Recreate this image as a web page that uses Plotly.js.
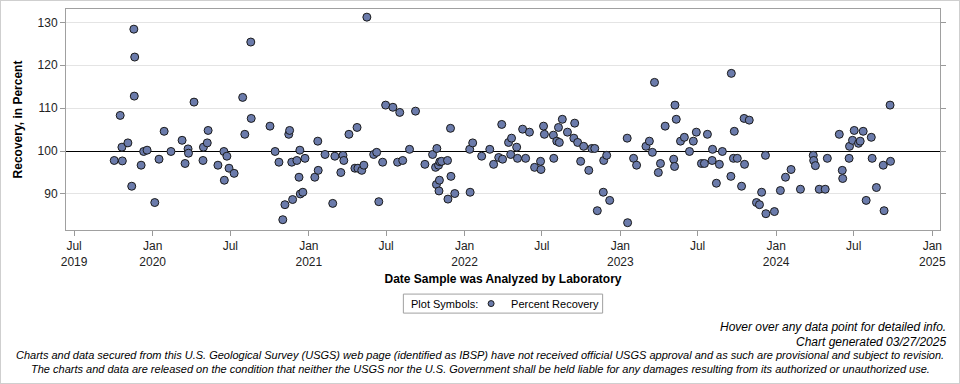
<!DOCTYPE html>
<html>
<head>
<meta charset="utf-8">
<script src="https://cdn.plot.ly/plotly-3.0.1.min.js"></script>
<style>
html,body{margin:0;padding:0;background:#fff;}
#wrap{position:relative;width:960px;height:384px;}
#chart{position:absolute;left:0;top:0;width:960px;height:384px;}
#frame{position:absolute;left:0;top:0;width:960px;height:384px;box-sizing:border-box;border:1px solid #cfcfcf;pointer-events:none;}
</style>
</head>
<body>
<div id="wrap"><div id="chart"></div><div id="frame"></div></div>
<script>
const sampleDates = [
"2019-10-03","2019-10-17","2019-10-21","2019-10-22","2019-11-04","2019-11-13","2019-11-18","2019-11-20","2019-11-19","2019-12-05",
"2019-12-11","2019-12-19","2020-01-06","2020-01-16","2020-01-28","2020-02-13","2020-03-10","2020-03-17","2020-03-24","2020-03-25",
"2020-04-07","2020-04-28","2020-04-29","2020-05-08","2020-05-10","2020-06-02","2020-06-16","2020-06-17","2020-06-23","2020-06-28",
"2020-07-10","2020-07-30","2020-08-04","2020-08-18","2020-08-19","2020-10-02","2020-10-14","2020-10-23","2020-11-01","2020-11-06",
"2020-11-15","2020-11-17","2020-11-22","2020-11-24","2020-12-04","2020-12-09","2020-12-11","2020-12-12","2020-12-18","2020-12-23",
"2021-01-15","2021-01-22","2021-01-23","2021-02-08","2021-02-26","2021-03-03","2021-03-17","2021-03-22","2021-03-24","2021-04-05",
"2021-04-19","2021-04-24","2021-04-26","2021-05-05","2021-05-10","2021-05-17","2021-06-02","2021-06-09","2021-06-14","2021-06-23",
"2021-06-30","2021-07-17","2021-07-28","2021-08-02","2021-08-09","2021-08-25","2021-09-08","2021-09-30","2021-10-18","2021-10-25",
"2021-10-28","2021-10-27","2021-11-01","2021-11-02","2021-11-03","2021-11-04","2021-11-08","2021-11-22","2021-11-23","2021-11-29",
"2021-11-30","2021-12-09","2022-01-13","2022-01-14","2022-01-20","2022-02-10","2022-03-01","2022-03-10","2022-03-22","2022-03-29",
"2022-03-31","2022-04-14","2022-04-19","2022-04-21","2022-05-03","2022-05-05","2022-05-17","2022-05-24","2022-06-02","2022-06-14",
"2022-06-28","2022-06-29","2022-07-05","2022-07-07","2022-07-29","2022-07-28","2022-08-05","2022-08-09","2022-08-11","2022-08-18",
"2022-08-30","2022-09-14","2022-09-16","2022-09-23","2022-09-30","2022-10-07","2022-10-19","2022-10-26","2022-11-02","2022-11-08",
"2022-11-23","2022-11-22","2022-11-30","2022-12-07","2023-01-18","2023-01-17","2023-02-01","2023-02-08","2023-03-02","2023-03-10",
"2023-03-17","2023-03-22","2023-03-31","2023-04-05","2023-04-16","2023-05-06","2023-05-08","2023-05-09","2023-05-12","2023-05-22",
"2023-05-31","2023-06-12","2023-06-21","2023-06-28","2023-07-10","2023-07-17","2023-07-24","2023-08-05","2023-08-04","2023-08-14",
"2023-08-21","2023-08-28","2023-09-18","2023-09-17","2023-09-23","2023-09-25","2023-10-02","2023-10-12","2023-10-19","2023-10-18",
"2023-10-30","2023-11-16","2023-11-23","2023-11-28","2023-12-07","2023-12-08","2023-12-28","2024-01-11","2024-01-23","2024-02-05",
"2024-02-27","2024-03-28","2024-03-29","2024-04-02","2024-04-11","2024-04-25","2024-04-30","2024-05-28","2024-06-04","2024-06-05",
"2024-06-21","2024-06-20","2024-06-28","2024-07-02","2024-07-12","2024-07-16","2024-07-23","2024-07-30","2024-08-11","2024-08-13",
"2024-08-23","2024-09-08","2024-09-10","2024-09-24","2024-09-25"
];
const percentRecovery = [
97.8,108.3,100.9,97.7,101.9,91.8,128.4,121.9,112.8,96.7,
99.9,100.2,88.0,98.1,104.6,99.9,102.5,97.1,100.5,99.5,
111.4,97.8,100.9,101.9,104.8,96.7,99.9,93.2,98.8,96.0,
94.8,112.5,103.9,125.4,107.6,105.8,99.9,97.4,84.0,87.5,
103.9,104.8,97.4,88.7,97.8,93.9,100.2,90.0,90.4,98.3,
93.9,102.3,95.5,99.2,87.8,98.8,95.0,99.0,97.8,103.9,
96.0,105.5,96.0,95.5,96.7,131.2,99.2,99.7,88.2,97.4,
110.7,110.2,97.4,109.0,97.8,100.4,109.3,96.9,99.2,96.2,
100.6,92.2,96.7,90.7,93.2,97.5,97.6,97.8,88.8,105.3,
94.1,90.1,100.4,90.4,101.9,98.8,100.4,96.9,98.5,106.2,
98.1,102.0,99.2,103.0,100.9,98.3,105.1,98.3,104.4,96.2,
97.6,95.7,105.8,103.9,98.3,103.7,102.3,105.5,102.0,107.4,
104.4,103.0,106.5,102.0,97.6,101.1,95.5,100.6,100.6,86.1,
97.8,90.4,99.0,88.5,83.3,103.0,98.3,96.7,101.1,102.3,
99.7,116.0,95.0,97.1,105.8,98.1,96.4,110.7,107.4,102.3,
103.2,99.9,102.3,104.4,97.1,97.1,103.9,100.4,97.8,92.5,
96.9,99.9,118.1,94.1,98.3,104.6,98.3,91.8,96.9,107.6,
107.2,88.0,87.5,90.4,99.0,85.4,85.9,90.8,93.9,95.7,
91.1,99.0,97.8,96.6,91.1,91.1,98.3,103.9,95.5,93.6,
101.1,98.3,102.5,104.8,101.8,102.3,104.6,88.5,103.2,98.3,
91.5,96.7,86.1,110.7,97.6
];
const xTickVals = ["2019-07-01","2020-01-01","2020-07-01","2021-01-01","2021-07-01","2022-01-01","2022-07-01","2023-01-01","2023-07-01","2024-01-01","2024-07-01","2025-01-01"];
const xTickText = ["Jul<br>2019","Jan<br>2020","Jul","Jan<br>2021","Jul","Jan<br>2022","Jul","Jan<br>2023","Jul","Jan<br>2024","Jul","Jan<br>2025"];
const yTickVals = [90,100,110,120,130];
const referenceLevel = 100;
const yRange = [81.6, 133.1];

const FONT = "Liberation Sans, Arial, sans-serif";
const FILL = "#6b7bab";

const trace = {
  type: "scatter",
  mode: "markers",
  name: "Percent Recovery",
  showlegend: false,
  x: sampleDates,
  y: percentRecovery,
  marker: {size: 8, color: FILL, line: {color: "#1a1a1a", width: 1}},
  hovertemplate: "%{x|%m/%d/%Y}<br>%{y:.1f}%<extra></extra>"
};
// legend-only entry with the smaller symbol shown in the reference legend
const legendEntry = {
  type: "scatter", mode: "markers", name: "Percent Recovery",
  x: [null], y: [null], showlegend: true, hoverinfo: "skip",
  marker: {size: 6, color: FILL, line: {color: "#1a1a1a", width: 1}}
};
// empty trace on an overlaid axis whose single gridline is the 100% reference line
const refAxisTrace = {
  type: "scatter", mode: "markers", x: [null], y: [null], yaxis: "y2",
  showlegend: false, hoverinfo: "skip"
};

const layout = {
  width: 960, height: 384,
  margin: {l: 66, r: 20, t: 9, b: 154},
  paper_bgcolor: "#ffffff", plot_bgcolor: "#ffffff",
  font: {family: FONT, size: 12, color: "#222"},
  showlegend: true,
  xaxis: {
    type: "date",
    range: ["2019-06-12", "2025-01-19"],
    tickmode: "array", tickvals: xTickVals, ticktext: xTickText,
    ticks: "outside", ticklen: 5, tickcolor: "#999",
    showgrid: false, zeroline: false,
    showline: true, linecolor: "#a0a0a0", linewidth: 1, mirror: true,
    tickfont: {family: FONT, size: 12, color: "#222"},
    title: {text: "<b>Date Sample was Analyzed by Laboratory</b>", font: {family: FONT, size: 12, color: "#000"}, standoff: 6}
  },
  yaxis: {
    range: yRange,
    tickmode: "array", tickvals: yTickVals,
    ticks: "outside", ticklen: 5, tickcolor: "#999",
    showgrid: true, gridcolor: "#e4e4e4", gridwidth: 1, zeroline: false,
    showline: true, linecolor: "#a0a0a0", linewidth: 1, mirror: "ticks",
    tickfont: {family: FONT, size: 12, color: "#222"},
    title: {text: "<b>Recovery, in Percent</b>", font: {family: FONT, size: 12, color: "#000"}, standoff: 12}
  },
  yaxis2: {
    overlaying: "y", side: "right", range: yRange,
    tickmode: "array", tickvals: [referenceLevel],
    showticklabels: false, ticks: "", showline: false, zeroline: false,
    showgrid: true, gridcolor: "#000000", gridwidth: 1
  },
  legend: {
    orientation: "h", x: 0.4635, xanchor: "left", y: -0.333, yanchor: "middle",
    borderwidth: 0, bgcolor: "rgba(0,0,0,0)",
    font: {family: FONT, size: 11, color: "#000"},
    itemwidth: 30, tracegroupgap: 0, itemsizing: "trace"
  },
  shapes: [{
    type: "rect", xref: "paper", yref: "paper",
    x0: 0.386, x1: 0.614, y0: -0.29, y1: -0.376,
    line: {color: "#a0a0a0", width: 1}, fillcolor: "rgba(0,0,0,0)"
  }],
  annotations: [
    {text: "Plot Symbols:", xref: "paper", yref: "paper", x: 0.392, y: -0.333, xanchor: "left", yanchor: "middle", showarrow: false, font: {family: FONT, size: 11, color: "#000"}},
    {text: "<i>Hover over any data point for detailed info.</i>", xref: "paper", yref: "paper", x: 1.009, y: -0.44, xanchor: "right", yanchor: "middle", showarrow: false, font: {family: FONT, size: 12, color: "#000"}},
    {text: "<i>Chart generated 03/27/2025</i>", xref: "paper", yref: "paper", x: 1.009, y: -0.508, xanchor: "right", yanchor: "middle", showarrow: false, font: {family: FONT, size: 12, color: "#000"}},
    {text: "<i>Charts and data secured from this U.S. Geological Survey (USGS) web page (identified as IBSP) have not received official USGS approval and as such are provisional and subject to revision.</i>", xref: "paper", yref: "paper", x: 0.474, y: -0.566, xanchor: "center", yanchor: "middle", showarrow: false, font: {family: FONT, size: 11, color: "#000"}},
    {text: "<i>The charts and data are released on the condition that neither the USGS nor the U.S. Government shall be held liable for any damages resulting from its authorized or unauthorized use.</i>", xref: "paper", yref: "paper", x: 0.474, y: -0.63, xanchor: "center", yanchor: "middle", showarrow: false, font: {family: FONT, size: 11, color: "#000"}}
  ]
};

Plotly.newPlot("chart", [refAxisTrace, trace, legendEntry], layout, {displayModeBar: false});
</script>
</body>
</html>
